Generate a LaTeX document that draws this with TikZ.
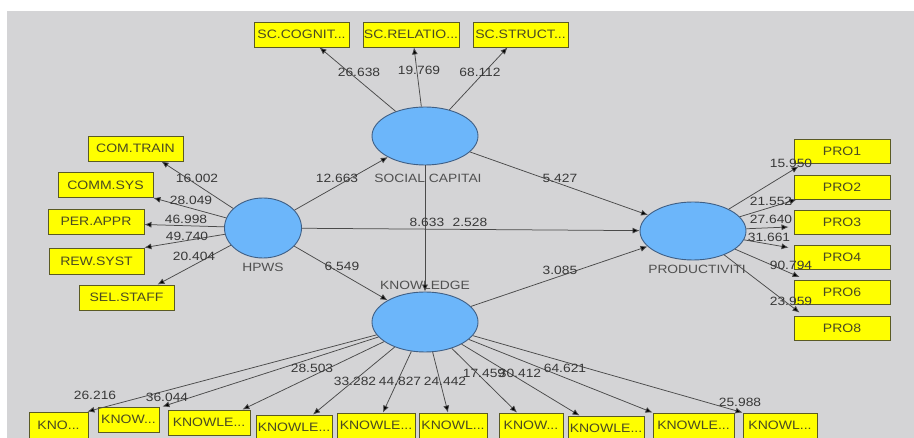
\documentclass[tikz,border=0pt]{standalone}
\usepackage{fontspec}
\setmainfont{Liberation Sans}[FakeStretch=1.15]
\usetikzlibrary{shapes.geometric,arrows.meta}
\definecolor{bg}{HTML}{D4D4D6}
\definecolor{lv}{HTML}{6CB6FA}
\definecolor{lvborder}{HTML}{3F5F85}
\definecolor{ybox}{HTML}{FFFF00}
\definecolor{yborder}{HTML}{5A5A24}
\definecolor{ytext}{HTML}{4A4A22}
\definecolor{edge}{HTML}{4A4A4A}
\definecolor{numtext}{HTML}{383838}
\definecolor{lvtext}{HTML}{505050}
\tikzset{
  lvnode/.style={ellipse, draw=lvborder, line width=0.9pt, fill=lv, minimum width=106pt, minimum height=58pt, inner sep=0pt},
  indbox/.style={rectangle, draw=yborder, line width=0.9pt, fill=ybox, minimum height=25pt, inner sep=0pt, text=ytext, font=\fontsize{12.2}{14}\selectfont},
  lbl/.style={inner sep=0pt, text=numtext, font=\fontsize{12}{14}\selectfont},
  lvlbl/.style={inner sep=0pt, text=lvtext, font=\fontsize{12}{14}\selectfont},
  arr/.style={draw=edge, line width=0.75pt, -{Latex[length=7pt,width=6pt,fill=black]}}
}
\begin{document}
\begin{tikzpicture}[x=1pt,y=-1pt]
\useasboundingbox (0,0) rectangle (914,438);
\fill[white] (0,0) rectangle (914,438);
\fill[bg] (7,11) rectangle (914,438);

% latent variables
\node[lvnode] (SC) at (425,136) {};
\node[lvnode, minimum width=77pt, minimum height=60pt] (H) at (263,228) {};
\node[lvnode, minimum height=60pt] (K) at (425,322) {};
\node[lvnode] (P) at (693,231) {};
\node[lvlbl] (SCl) at (428,178) {SOCIAL CAPITAI};
\node[lvlbl] (Hl) at (263,267) {HPWS};
\node[lvlbl] (Kl) at (425,285) {KNOWLEDGE};
\node[lvlbl] (Pl) at (697,269) {PRODUCTIVITI};

% social capital indicators
\node[indbox, minimum width=95pt] (s1) at (301.5,34.5) {SC.COGNIT...};
\node[indbox, minimum width=96pt] (s2) at (411,34.5) {SC.RELATIO...};
\node[indbox, minimum width=95pt] (s3) at (520.5,34.5) {SC.STRUCT...};

% HPWS indicators
\node[indbox, minimum width=95pt] (c1) at (135.5,148.5) {COM.TRAIN};
\node[indbox, minimum width=95pt] (c2) at (105.5,185) {COMM.SYS};
\node[indbox, minimum width=96pt] (c3) at (96,221.5) {PER.APPR};
\node[indbox, minimum width=95pt, minimum height=26pt] (c4) at (96.5,261) {REW.SYST};
\node[indbox, minimum width=95pt] (c5) at (126.5,297.5) {SEL.STAFF};

% productivity indicators
\node[indbox, minimum width=96pt, minimum height=24pt] (p1) at (842,151) {PRO1};
\node[indbox, minimum width=96pt, minimum height=24pt] (p2) at (842,187) {PRO2};
\node[indbox, minimum width=96pt, minimum height=24pt] (p3) at (842,222) {PRO3};
\node[indbox, minimum width=96pt, minimum height=24pt] (p4) at (842,257) {PRO4};
\node[indbox, minimum width=96pt, minimum height=24pt] (p5) at (842,292.5) {PRO6};
\node[indbox, minimum width=96pt, minimum height=24pt] (p6) at (842,328) {PRO8};

% knowledge indicators
\node[indbox, minimum width=59pt, minimum height=26pt] (k1) at (58.5,425) {KNO...};
\node[indbox, minimum width=61pt] (k2) at (128.5,419.5) {KNOW...};
\node[indbox, minimum width=82pt] (k3) at (209,422.5) {KNOWLE...};
\node[indbox, minimum width=76pt] (k4) at (294,427.5) {KNOWLE...};
\node[indbox, minimum width=78pt] (k5) at (376,425.5) {KNOWLE...};
\node[indbox, minimum width=68pt] (k6) at (453,425.5) {KNOWL...};
\node[indbox, minimum width=64pt] (k7) at (531,425.5) {KNOW...};
\node[indbox, minimum width=76pt] (k8) at (606,428.5) {KNOWLE...};
\node[indbox, minimum width=81pt] (k9) at (693.5,425.5) {KNOWLE...};
\node[indbox, minimum width=74pt] (k10) at (780,425.5) {KNOWL...};

% structural paths
\draw[arr] (H) -- (SC);
\draw[arr] (H) -- (P);
\draw[arr] (H) -- (K);
\draw[arr] (SC) -- (P);
\draw[arr] (K) -- (P);
\draw[arr] (SC) -- (K);

% outer loadings
\draw[arr] (SC) -- ([xshift=18pt]s1.south);
\draw[arr] (SC) -- ([xshift=3pt]s2.south);
\draw[arr] (SC) -- ([xshift=-13pt]s3.south);

\draw[arr] (H) -- ([xshift=26pt]c1.south);
\draw[arr] (H) -- (c2.south east);
\draw[arr] (H) -- ([yshift=-3pt]c3.east);
\draw[arr] (H) -- (c4.north east);
\draw[arr] (H) -- ([xshift=31pt]c5.north);

\draw[arr] (P) -- ([xshift=5pt,yshift=-3pt]p1.south west);
\draw[arr] (P) -- ([xshift=3pt]p2.south west);
\draw[arr] (P) -- ([xshift=-5pt,yshift=-5pt]p3.west);
\draw[arr] (P) -- ([xshift=-5pt,yshift=-3pt]p4.north west);
\draw[arr] (P) -- ([xshift=6pt,yshift=3pt]p5.north west);
\draw[arr] (P) -- ([xshift=6pt,yshift=3pt]p6.north west);

\draw[arr] (K) -- ([xshift=-1pt]k1.north east);
\draw[arr] (K) -- ([xshift=3pt]k2.north east);
\draw[arr] (K) -- ([xshift=-8pt]k3.north east);
\draw[arr] (K) -- ([xshift=19pt]k4.north);
\draw[arr] (K) -- ([xshift=7pt]k5.north);
\draw[arr] (K) -- ([xshift=-5pt]k6.north);
\draw[arr] (K) -- ([xshift=-14pt]k7.north);
\draw[arr] (K) -- ([xshift=12pt]k8.north west);
\draw[arr] (K) -- (k9.north west);
\draw[arr] (K) -- (k10.north west);

% path coefficients
\node[lbl] (b1) at (337,178) {12.663};
\node[lbl] (b2) at (560,178) {5.427};
\node[lbl] (b3) at (427,222) {8.633};
\node[lbl] (b4) at (470,222) {2.528};
\node[lbl] (b5) at (342,266) {6.549};
\node[lbl] (b6) at (560,270) {3.085};

\node[lbl] (o1) at (197,178) {16.002};
\node[lbl] (o2) at (191,200) {28.049};
\node[lbl] (o3) at (186,219) {46.998};
\node[lbl] (o4) at (187,236) {49.740};
\node[lbl] (o5) at (194,256) {20.404};

\node[lbl] (o6) at (359,72) {26.638};
\node[lbl] (o7) at (419,70) {19.769};
\node[lbl] (o8) at (480,72) {68.112};

\node[lbl] (o9) at (791,163) {15.950};
\node[lbl] (o10) at (771,201) {21.552};
\node[lbl] (o11) at (771,219) {27.640};
\node[lbl] (o12) at (769,237) {31.661};
\node[lbl] (o13) at (791,265) {90.794};
\node[lbl] (o14) at (791,301) {23.959};

\node[lbl] (o15) at (95,395) {26.216};
\node[lbl] (o16) at (167,397) {36.044};
\node[lbl] (o17) at (312,368) {28.503};
\node[lbl] (o18) at (355,381) {33.282};
\node[lbl] (o19) at (400,381) {44.827};
\node[lbl] (o20) at (445,381) {24.442};
\node[lbl] (o21) at (484,373) {17.459};
\node[lbl] (o22) at (520,373) {30.412};
\node[lbl] (o23) at (565,368) {64.621};
\node[lbl] (o24) at (740,402) {25.988};
\end{tikzpicture}
\end{document}
